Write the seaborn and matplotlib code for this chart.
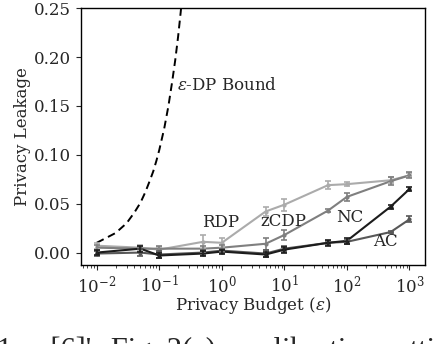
import matplotlib
matplotlib.use('Agg')
import matplotlib.pyplot as plt
import seaborn as sns
import pandas as pd

# privacy budgets used in the experiment
eps = [0.01, 0.05, 0.1, 0.5, 1, 5, 10, 50, 100, 500, 1000]

# measured leakage (mean) and error bar half-width per method
rdp = [0.007, 0.005, 0.003, 0.011, 0.010, 0.042, 0.049, 0.069, 0.070, 0.074, 0.079]
rdp_err = [0.003, 0.003, 0.003, 0.007, 0.005, 0.005, 0.006, 0.004, 0.002, 0.003, 0.002]
zcdp = [0.005, 0.004, 0.004, 0.004, 0.005, 0.009, 0.018, 0.043, 0.057, 0.073, 0.079]
zcdp_err = [0.003, 0.003, 0.003, 0.003, 0.003, 0.006, 0.005, 0.002, 0.004, 0.004, 0.003]
ac = [-0.001, 0.000, -0.002, 0.000, 0.002, -0.001, 0.004, 0.010, 0.011, 0.021, 0.034]
ac_err = [0.003, 0.004, 0.004, 0.003, 0.002, 0.004, 0.003, 0.002, 0.002, 0.001, 0.003]
nc = [0.000, 0.004, -0.003, -0.001, 0.001, -0.002, 0.003, 0.010, 0.012, 0.047, 0.065]
nc_err = [0.003, 0.003, 0.003, 0.003, 0.002, 0.003, 0.003, 0.003, 0.003, 0.002, 0.002]

# epsilon-DP bound
bound_eps = [0.01, 0.02, 0.03, 0.04, 0.05, 0.06, 0.07, 0.08, 0.09, 0.10,
             0.12, 0.14, 0.16, 0.18, 0.20, 0.22, 0.23]
bound_val = [0.010, 0.020, 0.030, 0.041, 0.051, 0.062, 0.073, 0.083, 0.094, 0.105,
             0.127, 0.150, 0.174, 0.197, 0.221, 0.246, 0.259]

methods = ['RDP', 'zCDP', 'AC', 'NC']
colors = {'RDP': '#ababab', 'zCDP': '#7f7f7f', 'AC': '#585858', 'NC': '#1c1c1c'}

df = pd.concat([
    pd.DataFrame({'eps': eps, 'leak': rdp, 'err': rdp_err, 'method': 'RDP'}),
    pd.DataFrame({'eps': eps, 'leak': zcdp, 'err': zcdp_err, 'method': 'zCDP'}),
    pd.DataFrame({'eps': eps, 'leak': ac, 'err': ac_err, 'method': 'AC'}),
    pd.DataFrame({'eps': eps, 'leak': nc, 'err': nc_err, 'method': 'NC'}),
])

sns.set_theme(style='ticks')
plt.rcParams['font.family'] = ['DejaVu Serif']
plt.rcParams['mathtext.fontset'] = 'dejavuserif'

fig = plt.figure(figsize=(4.36, 3.44), dpi=100)
ax = fig.add_axes([0.186, 0.230, 0.789, 0.746])

sns.lineplot(x=bound_eps, y=bound_val, ax=ax, color='black', linestyle=(0, (4, 2.5)), linewidth=1.4)
sns.lineplot(data=df, x='eps', y='leak', hue='method', hue_order=methods, palette=colors,
             marker='.', markersize=6, markeredgewidth=0, linewidth=1.5, legend=False, ax=ax)
for m in methods:
    d = df[df['method'] == m]
    ax.errorbar(d['eps'], d['leak'], yerr=d['err'], fmt='none', ecolor=colors[m],
                elinewidth=1.2, capsize=2, capthick=1.2)

ax.set_xscale('log')
ax.set_xlim(10 ** -2.25, 10 ** 3.25)
ax.set_ylim(-0.0126, 0.25)
ax.set_yticks([0.00, 0.05, 0.10, 0.15, 0.20, 0.25])
ax.set_xticks([1e-2, 1e-1, 1e0, 1e1, 1e2, 1e3])
ax.tick_params(labelsize=12, length=3.5, width=0.8)
ax.tick_params(which='minor', length=2, width=0.6)
for s in ax.spines.values():
    s.set_linewidth(1.0)
    s.set_color('black')
ax.set_xlabel(r'Privacy Budget ($\varepsilon$)', fontsize=12, labelpad=-1)
ax.set_ylabel('Privacy Leakage', fontsize=12, labelpad=2)

ax.text(0.19, 0.171, r'$\varepsilon$-DP Bound', fontsize=12, va='center')
ax.text(0.49, 0.031, 'RDP', fontsize=12, va='center')
ax.text(4.2, 0.032, 'zCDP', fontsize=12, va='center')
ax.text(66, 0.036, 'NC', fontsize=12, va='center')
ax.text(260, 0.0115, 'AC', fontsize=12, va='center')

# caption of the source page, cut by the bottom edge as in the screenshot
fig.text(-0.007, -0.045, "1.    [6]'s Fig. 2(a)    calibration setting", fontsize=22,
         va='baseline', ha='left', family=['Liberation Serif'])

plt.savefig('out.png', dpi=100)
